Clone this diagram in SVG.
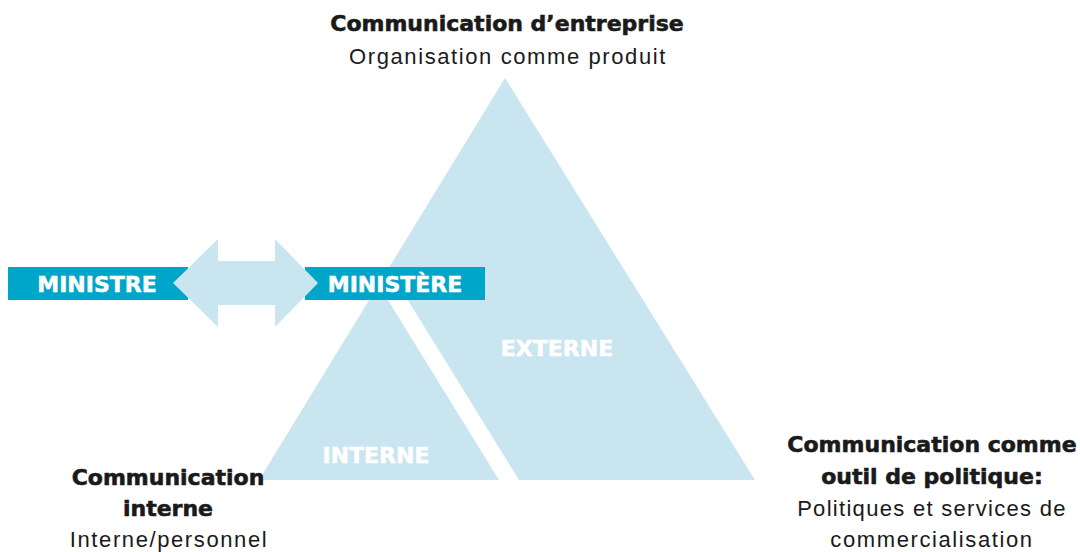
<svg xmlns="http://www.w3.org/2000/svg" width="1080" height="552" viewBox="0 0 1080 552">
  <style>
    .light { fill: #c9e6f0; }
    .box { fill: #00a6c9; }
    .hb { font-family: "DejaVu Sans", "Liberation Sans", sans-serif; font-weight: bold; font-size: 22px; fill: #1a1a1a; stroke: #1a1a1a; stroke-width: 0.6px; text-anchor: middle; }
    .rg { font-family: "Liberation Sans", Arial, sans-serif; font-size: 22px; letter-spacing: 1.6px; fill: #1a1a1a; text-anchor: middle; }
    .wl { font-family: "DejaVu Sans", "Liberation Sans", sans-serif; font-weight: bold; font-size: 22px; fill: #ffffff; stroke: #ffffff; stroke-width: 0.5px; text-anchor: middle; }
  </style>
  <rect width="1080" height="552" fill="#ffffff"/>

  <g id="pyramid">
    <polygon class="light" points="505,78 259,480 755,480"/>
    <polygon fill="#ffffff" points="378,284 388,268 519,480 499,480"/>
  </g>

  <g id="externe">
    <text class="wl" x="557" y="356">EXTERNE</text>
  </g>
  <g id="interne">
    <text class="wl" x="376" y="463">INTERNE</text>
  </g>

  <g id="ministre">
    <rect class="box" x="8" y="267" width="180" height="33"/>
    <text class="wl" x="97" y="292">MINISTRE</text>
  </g>
  <g id="ministere">
    <rect class="box" x="305" y="267" width="180" height="33"/>
    <text class="wl" x="395" y="292">MINISTÈRE</text>
  </g>

  <g id="connectors">
    <polygon class="light" points="173,283 218,239 218,261 275,261 275,239 318,283 275,327 275,305 218,305 218,327"/>
  </g>

  <g id="label-entreprise">
    <text class="hb" x="507" y="31">Communication d’entreprise</text>
    <text class="rg" x="508" y="64">Organisation comme produit</text>
  </g>

  <g id="label-interne">
    <text class="hb" x="168" y="485">Communication</text>
    <text class="hb" x="168" y="516">interne</text>
    <text class="rg" x="169" y="547">Interne/personnel</text>
  </g>

  <g id="label-politique">
    <text class="hb" x="932" y="452">Communication comme</text>
    <text class="hb" x="932" y="484">outil de politique:</text>
    <text class="rg" x="932" y="516" style="letter-spacing:1.3px">Politiques et services de</text>
    <text class="rg" x="932" y="547">commercialisation</text>
  </g>
</svg>
